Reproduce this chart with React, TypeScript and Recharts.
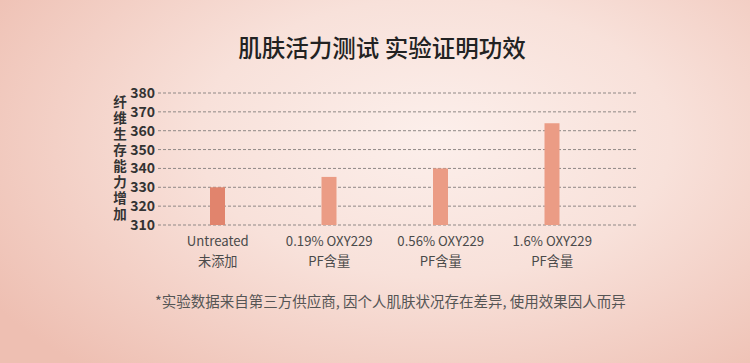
import React from "react";
import { BarChart, Bar, XAxis, YAxis, CartesianGrid, Cell } from "recharts";

const categories = ["Untreated", "0.19% OXY229", "0.56% OXY229", "1.6% OXY229"];
const subLabels = ["未添加", "PF含量", "PF含量", "PF含量"];
const values = [330, 335.5, 340, 364];
const yTicks = [310, 320, 330, 340, 350, 360, 370, 380];
const yLabel = "纤维生存能力增加";
const barColors = ["#e1846d", "#eb9c85", "#eb9c85", "#eb9c85"];

const title = "肌肤活力测试 实验证明功效";
const footnote = "*实验数据来自第三方供应商, 因个人肌肤状况存在差异, 使用效果因人而异";

const data = categories.map((c, i) => ({ name: c, sub: subLabels[i], value: values[i] }));

const font = "'Noto Sans CJK SC', 'Noto Sans', sans-serif";

function CategoryTick(props: any) {
  const { x, y, payload, index } = props;
  return (
    <text x={x} y={y + 13} textAnchor="middle" fill="#4a4a4a" fontSize={13.2} fontFamily={font}>
      <tspan x={x}>{payload.value}</tspan>
      <tspan x={x} dy={19.5}>
        {subLabels[index]}
      </tspan>
    </text>
  );
}

export default function App() {
  return (
    <div
      style={{
        position: "absolute",
        left: 0,
        top: 0,
        width: 750,
        height: 363,
        overflow: "hidden",
        background:
          "radial-gradient(ellipse 70% 85% at 58% 38%, #fcefeb 0%, #f8e1da 45%, #eebfb2 100%)",
        fontFamily: font,
      }}
    >
      <div
        style={{
          position: "absolute",
          top: 30,
          left: 0,
          width: 764,
          textAlign: "center",
          fontSize: 23.5,
          fontWeight: 500,
          color: "#222",
        }}
      >
        {title}
      </div>
      <div
        style={{
          position: "absolute",
          left: 113,
          top: 95,
          writingMode: "vertical-rl",
          fontSize: 13.5,
          lineHeight: "14px",
          letterSpacing: 2.5,
          fontWeight: "bold",
          color: "#333",
        }}
      >
        {yLabel}
      </div>
      <div style={{ position: "absolute", left: 0, top: 0 }}>
        <BarChart
          width={750}
          height={363}
          data={data}
          margin={{ top: 93, right: 112, bottom: 93, left: 118 }}
        >
          <CartesianGrid vertical={false} stroke="#8f8886" strokeDasharray="3 2" />
          <XAxis
            dataKey="name"
            axisLine={false}
            tickLine={false}
            height={45}
            interval={0}
            padding={{ left: 4, right: 30 }}
            tick={<CategoryTick />}
          />
          <YAxis
            domain={[310, 380]}
            ticks={yTicks}
            width={40}
            axisLine={false}
            tickLine={false}
            tickSize={0}
            tickMargin={3}
            interval={0}
            tick={{ fill: "#333", fontSize: 14, fontWeight: 600, fontFamily: font }}
          />
          <Bar dataKey="value" barSize={15} isAnimationActive={false}>
            {data.map((d, i) => (
              <Cell key={d.name} fill={barColors[i]} />
            ))}
          </Bar>
        </BarChart>
      </div>
      <div
        style={{
          position: "absolute",
          top: 290,
          left: 155,
          fontSize: 14.5,
          color: "#555",
          whiteSpace: "nowrap",
        }}
      >
        {footnote}
      </div>
    </div>
  );
}
